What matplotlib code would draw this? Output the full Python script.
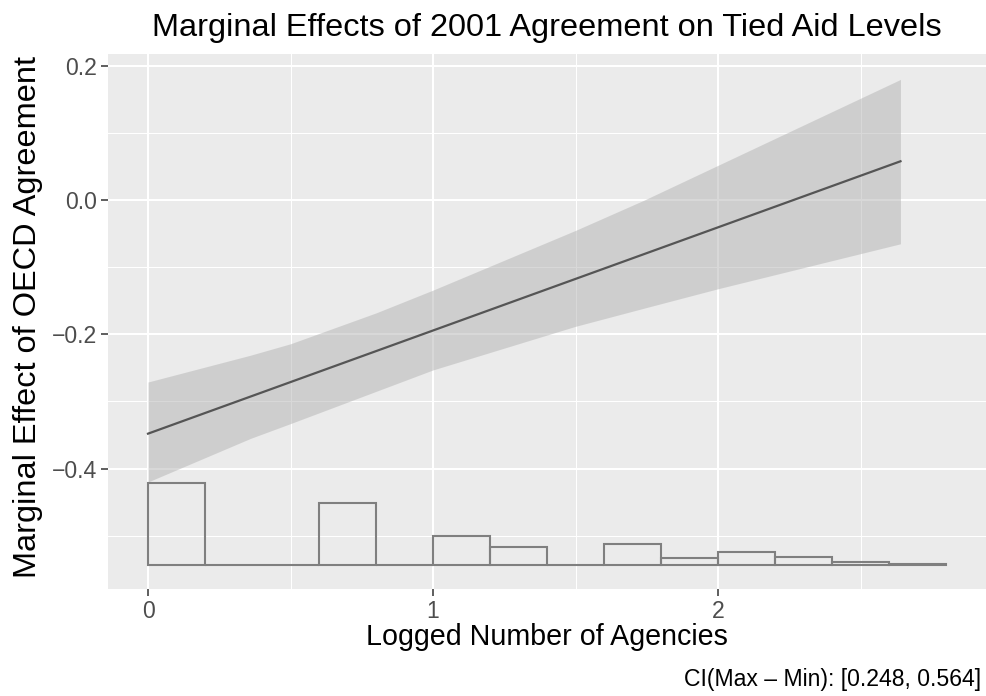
import numpy as np
import matplotlib.pyplot as plt
from matplotlib.ticker import MultipleLocator

plt.rcParams['font.family'] = ['Liberation Sans', 'DejaVu Sans']

# marginal effect line and confidence band
line_x = [0.0, 2.64]
line_y = [-0.348, 0.058]
ci_x = [0.0, 0.36, 0.5, 0.8, 1.0, 1.5, 1.74, 2.0, 2.64]
ci_upper = [-0.271, -0.231, -0.214, -0.168, -0.134, -0.045, 0.000, 0.052, 0.180]
ci_lower = [-0.420, -0.355, -0.333, -0.285, -0.253, -0.188, -0.161, -0.132, -0.065]

# histogram of the moderator (logged number of agencies)
bin_edges = [0.0, 0.2, 0.4, 0.6, 0.8, 1.0, 1.2, 1.4, 1.6, 1.8, 2.0, 2.2, 2.4, 2.6, 2.8]
bin_counts = [63, 0, 0, 48, 0, 22, 14, 0, 16, 5, 10, 6, 2, 1]
hist_base = -0.5435
hist_unit = 0.001933

title = 'Marginal Effects of 2001 Agreement on Tied Aid Levels'
xlab = 'Logged Number of Agencies'
ylab = 'Marginal Effect of OECD Agreement'
caption = 'CI(Max \u2013 Min): [0.248, 0.564]'

W, H = 987, 696
fig = plt.figure(figsize=(W / 100, H / 100), dpi=100)
left, right, top, bottom = 108, 986, 54, 588.5
ax = fig.add_axes([left / W, 1 - bottom / H, (right - left) / W, (bottom - top) / H])
ax.set_facecolor('#EBEBEB')
for s in ax.spines.values():
    s.set_visible(False)

ax.set_xlim(-0.1404, 2.940)
ax.set_ylim(-0.5788, 0.2179)
ax.xaxis.set_major_locator(MultipleLocator(1))
ax.xaxis.set_minor_locator(MultipleLocator(0.5))
ax.yaxis.set_major_locator(MultipleLocator(0.2))
ax.yaxis.set_minor_locator(MultipleLocator(0.1))
ax.grid(which='major', color='white', lw=1.5)
ax.grid(which='minor', color='white', lw=0.75)
ax.set_axisbelow(True)

ax.fill_between(ci_x, ci_lower, ci_upper, color='#B3B3B3', alpha=0.5, lw=0, zorder=2)
ax.plot(line_x, line_y, color='#555555', lw=1.6, zorder=3)

widths = np.diff(bin_edges)
heights = np.array(bin_counts) * hist_unit
ax.bar(bin_edges[:-1], heights, width=widths, bottom=hist_base, align='edge',
       fill=False, edgecolor='#7F7F7F', lw=1.5, zorder=4)

ax.tick_params(which='minor', length=0)
ax.tick_params(which='major', length=5, width=1.1, color='#333333',
               labelcolor='#4D4D4D', labelsize=16.6, pad=3)
ax.set_xticks([0, 1, 2])
ax.set_xticklabels(['0', '1', '2'])
ax.set_yticks([-0.4, -0.2, 0.0, 0.2])
ax.set_yticklabels(['\u22120.4', '\u22120.2', '0.0', '0.2'])

cx = (left + right) / 2 / W
fig.text(cx, 1 - 36 / H, title, ha='center', va='baseline', fontsize=23.4, color='black')
fig.text(cx, 1 - 645 / H, xlab, ha='center', va='baseline', fontsize=20.6, color='black')
fig.text(28 / W, 1 - 317 / H, ylab, ha='center', va='center',
         rotation=90, fontsize=23.4, color='black')
fig.text(981 / W, 1 - 686 / H, caption, ha='right', va='baseline', fontsize=16.6, color='black')

fig.savefig('out.png', dpi=100, facecolor='white')
